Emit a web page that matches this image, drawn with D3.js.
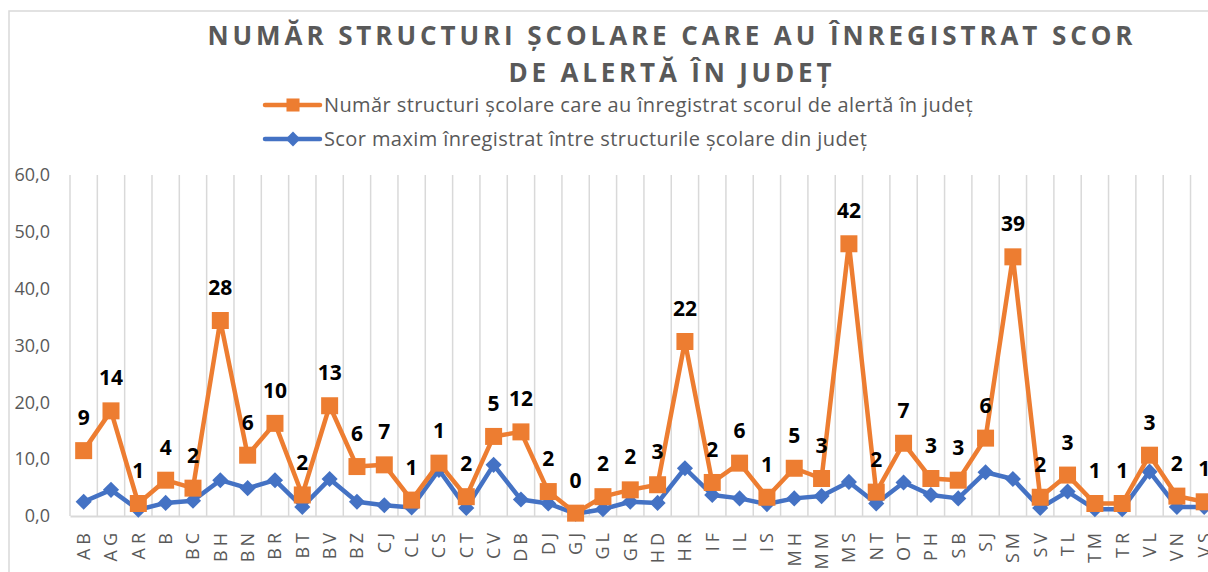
<!DOCTYPE html>
<html>
<head>
<meta charset="utf-8">
<script src="https://cdn.jsdelivr.net/npm/d3@7/dist/d3.min.js"></script>
<style>
  body { margin: 0; background: #fff; overflow: hidden; }
  text { font-family: "Open Sans", sans-serif; }
</style>
</head>
<body>
<svg id="chart" width="1208" height="572"></svg>
<script>
// judete (categories)
const judete = ['AB', 'AG', 'AR', 'B', 'BC', 'BH', 'BN', 'BR', 'BT', 'BV', 'BZ', 'CJ', 'CL', 'CS',
  'CT', 'CV', 'DB', 'DJ', 'GJ', 'GL', 'GR', 'HD', 'HR', 'IF', 'IL', 'IS', 'MH', 'MM', 'MS', 'NT',
  'OT', 'PH', 'SB', 'SJ', 'SM', 'SV', 'TL', 'TM', 'TR', 'VL', 'VN', 'VS'];

// orange series
const numarStructuri = [11.5, 18.5, 2.2, 6.3, 4.9, 34.4, 10.7, 16.3, 3.7, 19.4, 8.7, 9.0, 2.8, 9.3,
  3.4, 14.0, 14.8, 4.3, 0.5, 3.4, 4.6, 5.5, 30.7, 5.9, 9.3, 3.3, 8.4, 6.6, 47.9, 4.2,
  12.8, 6.6, 6.3, 13.7, 45.6, 3.3, 7.2, 2.2, 2.2, 10.7, 3.5, 2.5];

// blue series
const scorMaxim = [2.5, 4.6, 1.1, 2.3, 2.7, 6.3, 4.9, 6.3, 1.6, 6.5, 2.5, 1.9, 1.5, 8.1,
  1.4, 9.0, 2.9, 2.2, 0.4, 1.2, 2.5, 2.3, 8.4, 3.7, 3.1, 2.1, 3.1, 3.5, 6.0, 2.2,
  5.9, 3.7, 3.1, 7.7, 6.5, 1.4, 4.3, 1.2, 1.2, 7.8, 1.6, 1.6];

// data labels shown above the orange markers
const etichete = [9, 14, 1, 4, 2, 28, 6, 10, 2, 13, 6, 7, 1, 1,
  2, 5, 12, 2, 0, 2, 2, 3, 22, 2, 6, 1, 5, 3, 42, 2,
  7, 3, 3, 6, 39, 2, 3, 1, 1, 3, 2, 1];

const yTicks = [0, 10, 20, 30, 40, 50, 60];
const titlu = ['NUMĂR STRUCTURI ȘCOLARE CARE AU ÎNREGISTRAT SCOR', 'DE ALERTĂ ÎN JUDEȚ'];
const legendaNume = ['Număr structuri școlare care au înregistrat scorul de alertă în județ',
  'Scor maxim înregistrat între structurile școlare din județ'];

const orange = '#ED7D31', blue = '#4472C4', grid = '#D9D9D9', textGray = '#595959';

const svg = d3.select('#chart');

// chart frame (runs past the right and bottom edges like the cropped reference)
svg.append('rect')
  .attr('x', 9).attr('y', 11)
  .attr('width', 1400).attr('height', 800)
  .attr('fill', 'none').attr('stroke', grid).attr('stroke-width', 1.5);

// scales
const step = 27.33;
const x = d3.scaleBand().domain(judete).range([70, 70 + step * judete.length]).padding(0);
const y = d3.scaleLinear().domain([0, 60]).range([516, 175]);
const cx = d => x(d) + x.bandwidth() / 2;

// title
svg.append('g').selectAll('text')
  .data(titlu).enter()
  .append('text')
  .attr('x', 670)
  .attr('y', (d, i) => 45 + i * 37)
  .attr('text-anchor', 'middle')
  .attr('font-size', 26)
  .attr('font-weight', 700)
  .attr('fill', textGray)
  .attr('textLength', (d, i) => i === 0 ? 925 : 323)
  .attr('lengthAdjust', 'spacing')
  .text(d => d);

// legend
const legend = svg.append('g').attr('class', 'legend');
const legendRows = legend.selectAll('g')
  .data(legendaNume).enter()
  .append('g')
  .attr('transform', (d, i) => `translate(0, ${105 + i * 34})`);
legendRows.append('line')
  .attr('x1', 265).attr('x2', 320)
  .attr('stroke', (d, i) => i === 0 ? orange : blue)
  .attr('stroke-width', 4.5)
  .attr('stroke-linecap', 'round');
legendRows.append('path')
  .attr('transform', (d, i) => i === 0 ? 'translate(293,0)' : 'translate(293,0) rotate(45)')
  .attr('d', (d, i) => d3.symbol(d3.symbolSquare, i === 0 ? 170 : 110)())
  .attr('fill', (d, i) => i === 0 ? orange : blue);
legendRows.append('text')
  .attr('x', 324).attr('dy', '0.35em')
  .attr('font-size', 20)
  .attr('letter-spacing', 0.4)
  .attr('fill', textGray)
  .text(d => d);

// vertical gridlines at category boundaries
const edges = judete.map(d => x(d)).concat([x.range()[1]]);
svg.append('g').attr('class', 'grid')
  .selectAll('line')
  .data(edges).enter()
  .append('line')
  .attr('x1', d => d).attr('x2', d => d)
  .attr('y1', y(60)).attr('y2', y(0))
  .attr('stroke', grid).attr('stroke-width', 1.5);

// y axis
const yAxis = d3.axisLeft(y).tickValues(yTicks).tickSize(0).tickPadding(20)
  .tickFormat(d => d3.format('.1f')(d).replace('.', ','));
svg.append('g')
  .attr('class', 'y axis')
  .attr('transform', 'translate(70,0)')
  .call(yAxis)
  .call(g => g.select('.domain').remove())
  .call(g => g.selectAll('text').attr('font-size', 18).attr('fill', textGray)
    .style('font-family', '"Open Sans", sans-serif'));

// x axis
const xAxis = d3.axisBottom(x).tickSize(0).tickSizeOuter(0);
svg.append('g')
  .attr('class', 'x axis')
  .attr('transform', `translate(0, ${y(0)})`)
  .call(xAxis)
  .call(g => g.select('.domain').attr('stroke', grid).attr('stroke-width', 2))
  .call(g => g.selectAll('text')
    .attr('transform', 'rotate(-90)')
    .attr('text-anchor', 'end')
    .attr('x', -13).attr('y', 0).attr('dy', '0.36em')
    .attr('font-size', 18)
    .attr('letter-spacing', 4)
    .attr('fill', textGray)
    .style('font-family', '"Open Sans", sans-serif'));

// lines
const line = d3.line()
  .x((d, i) => cx(judete[i]))
  .y(d => y(d));

svg.append('path')
  .datum(scorMaxim)
  .attr('d', line)
  .attr('fill', 'none').attr('stroke', blue)
  .attr('stroke-width', 4.5).attr('stroke-linejoin', 'round');

svg.append('g').selectAll('path')
  .data(scorMaxim).enter()
  .append('path')
  .attr('transform', (d, i) => `translate(${cx(judete[i])},${y(d)}) rotate(45)`)
  .attr('d', d3.symbol(d3.symbolSquare, 130)())
  .attr('fill', blue);

svg.append('path')
  .datum(numarStructuri)
  .attr('d', line)
  .attr('fill', 'none').attr('stroke', orange)
  .attr('stroke-width', 4.5).attr('stroke-linejoin', 'round');

svg.append('g').selectAll('path')
  .data(numarStructuri).enter()
  .append('path')
  .attr('transform', (d, i) => `translate(${cx(judete[i])},${y(d)})`)
  .attr('d', d3.symbol(d3.symbolSquare, 289)())
  .attr('fill', orange);

// data labels
svg.append('g').attr('class', 'labels')
  .selectAll('text')
  .data(etichete).enter()
  .append('text')
  .attr('x', (d, i) => cx(judete[i]))
  .attr('y', (d, i) => y(numarStructuri[i]) - 33)
  .attr('dy', '0.36em')
  .attr('text-anchor', 'middle')
  .attr('font-size', 21)
  .attr('font-weight', 700)
  .attr('fill', '#000')
  .text(d => d);
</script>
</body>
</html>
